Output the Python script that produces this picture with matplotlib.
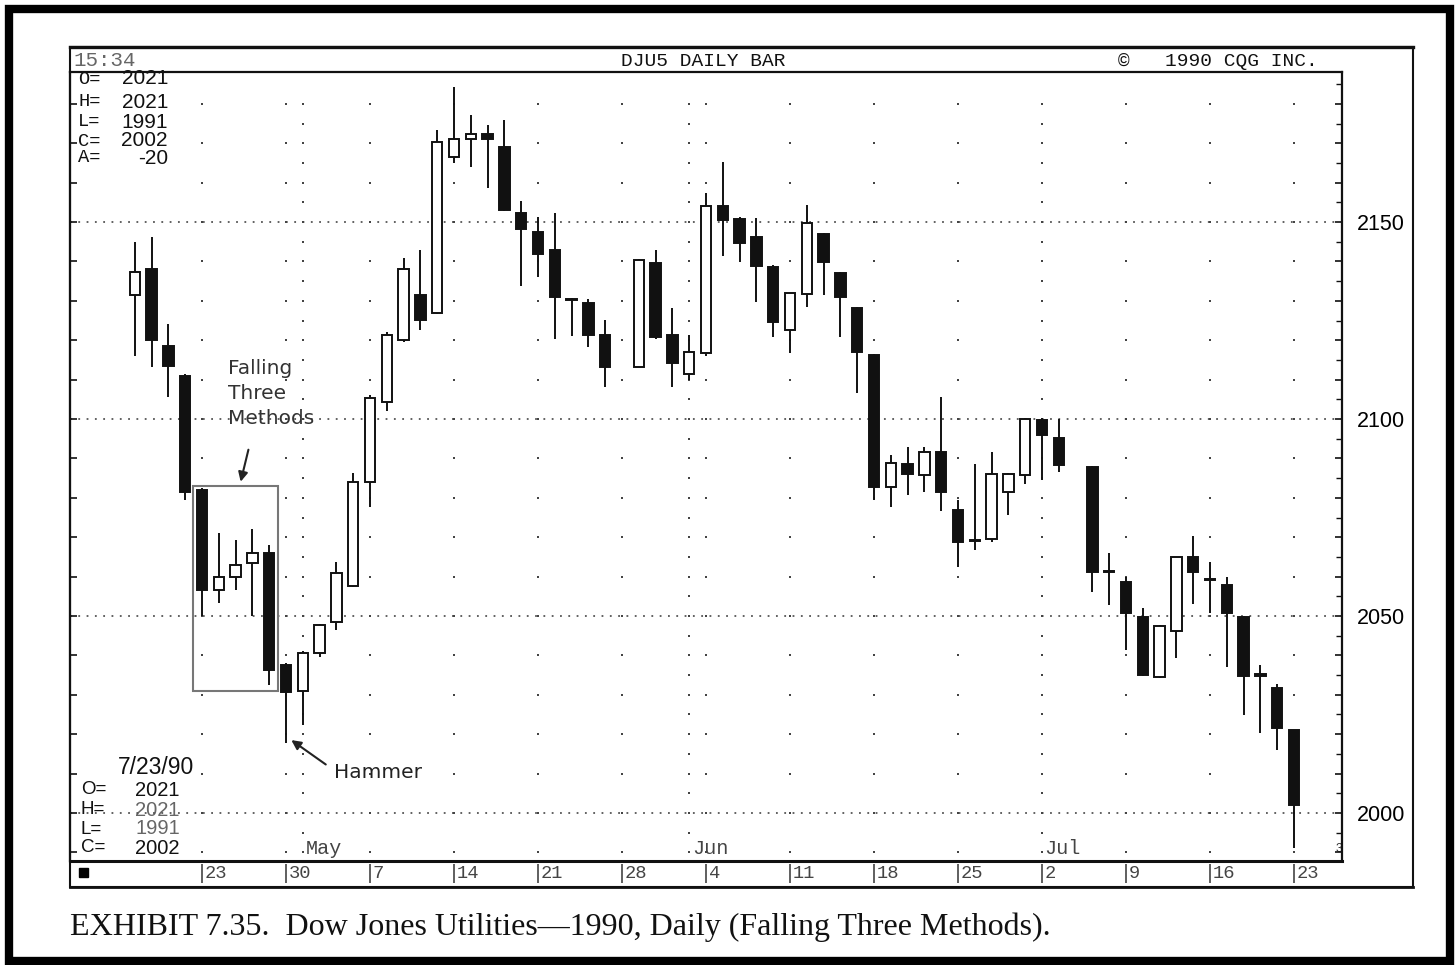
import numpy as np
import matplotlib
matplotlib.use("Agg")
import matplotlib.pyplot as plt
import matplotlib.transforms as mtransforms
from matplotlib.patches import Rectangle

plt.rcParams["font.family"] = ["Liberation Sans", "DejaVu Sans"]

# ---- Daily OHLC, Dow Jones Utilities 1990 ----
dates = [
    "1990-04-17", "1990-04-18", "1990-04-19", "1990-04-20",
    "1990-04-23", "1990-04-24", "1990-04-25", "1990-04-26", "1990-04-27",
    "1990-04-30", "1990-05-01", "1990-05-02", "1990-05-03", "1990-05-04",
    "1990-05-07", "1990-05-08", "1990-05-09", "1990-05-10", "1990-05-11",
    "1990-05-14", "1990-05-15", "1990-05-16", "1990-05-17", "1990-05-18",
    "1990-05-21", "1990-05-22", "1990-05-23", "1990-05-24", "1990-05-25",
    "1990-05-29", "1990-05-30", "1990-05-31", "1990-06-01",
    "1990-06-04", "1990-06-05", "1990-06-06", "1990-06-07", "1990-06-08",
    "1990-06-11", "1990-06-12", "1990-06-13", "1990-06-14", "1990-06-15",
    "1990-06-18", "1990-06-19", "1990-06-20", "1990-06-21", "1990-06-22",
    "1990-06-25", "1990-06-26", "1990-06-27", "1990-06-28", "1990-06-29",
    "1990-07-02", "1990-07-03", "1990-07-05", "1990-07-06",
    "1990-07-09", "1990-07-10", "1990-07-11", "1990-07-12", "1990-07-13",
    "1990-07-16", "1990-07-17", "1990-07-18", "1990-07-19", "1990-07-20",
    "1990-07-23",
]
opens = [
    2131.5, 2138.0, 2118.5, 2111.0,
    2082.0, 2056.6, 2060.0, 2063.5, 2066.0,
    2037.6, 2031.0, 2040.7, 2048.6, 2057.6,
    2084.1, 2104.4, 2120.0, 2131.5, 2127.0,
    2166.4, 2171.0, 2172.3, 2169.1, 2152.2,
    2147.4, 2142.9, 2130.5, 2129.4, 2121.3,
    2113.3, 2139.5, 2121.3, 2111.4,
    2116.8, 2154.1, 2150.9, 2146.1, 2138.5,
    2122.6, 2131.7, 2147.1, 2137.0, 2128.1,
    2116.2, 2082.8, 2088.6, 2085.8, 2091.7,
    2076.9, 2069.3, 2069.5, 2081.5, 2085.8,
    2099.7, 2095.1, 2087.7, 2061.5,
    2058.7, 2049.8, 2034.4, 2046.3, 2064.9,
    2059.5, 2057.9, 2049.7, 2035.2, 2031.7,
    2021.0,
]
highs = [
    2145.0, 2146.3, 2124.0, 2111.5,
    2082.5, 2071.0, 2069.3, 2072.0, 2068.0,
    2038.0, 2041.0, 2048.0, 2063.8, 2086.2,
    2106.0, 2122.0, 2140.8, 2143.0, 2173.4,
    2184.3, 2177.2, 2174.6, 2176.0, 2155.4,
    2151.3, 2152.2, 2130.6, 2130.4, 2125.1,
    2140.6, 2142.9, 2128.3, 2121.3,
    2157.3, 2165.3, 2151.2, 2151.0, 2139.1,
    2132.1, 2154.3, 2147.3, 2137.4, 2128.5,
    2116.4, 2090.9, 2093.0, 2092.8, 2105.5,
    2079.4, 2088.6, 2091.7, 2086.2, 2100.2,
    2100.2, 2099.9, 2088.0, 2065.9,
    2060.0, 2052.0, 2047.7, 2065.1, 2070.2,
    2063.6, 2060.0, 2050.0, 2037.6, 2032.7,
    2021.0,
]
lows = [
    2116.0, 2113.3, 2105.7, 2079.5,
    2050.0, 2053.2, 2056.6, 2050.0, 2032.5,
    2017.7, 2022.3, 2039.7, 2046.4, 2057.4,
    2077.7, 2102.0, 2119.6, 2122.6, 2126.6,
    2165.0, 2164.0, 2158.6, 2152.9, 2133.8,
    2136.0, 2120.2, 2121.0, 2118.2, 2108.1,
    2113.1, 2120.2, 2108.1, 2109.9,
    2116.0, 2141.4, 2139.9, 2129.8, 2120.9,
    2116.8, 2128.5, 2131.5, 2120.9, 2106.7,
    2079.4, 2077.7, 2080.7, 2081.5, 2076.7,
    2062.5, 2066.8, 2068.9, 2075.6, 2083.5,
    2084.5, 2086.6, 2056.2, 2052.8,
    2041.4, 2034.8, 2034.2, 2039.3, 2053.0,
    2050.7, 2037.1, 2024.9, 2020.2, 2016.0,
    1991.0,
]
closes = [
    2137.4, 2120.0, 2113.5, 2081.5,
    2056.5, 2060.0, 2063.0, 2066.0, 2036.3,
    2030.8, 2040.7, 2047.7, 2060.8, 2084.1,
    2105.3, 2121.3, 2138.2, 2125.1, 2170.4,
    2171.2, 2172.3, 2171.0, 2153.1, 2148.2,
    2141.9, 2131.0, 2130.2, 2121.3, 2113.3,
    2140.4, 2120.9, 2114.3, 2117.1,
    2154.1, 2150.5, 2144.8, 2138.8, 2124.7,
    2131.9, 2149.7, 2139.9, 2131.0, 2117.1,
    2082.8, 2088.8, 2086.0, 2091.7, 2081.5,
    2068.9, 2069.1, 2086.0, 2086.0, 2099.9,
    2095.9, 2088.3, 2061.2, 2061.1,
    2050.7, 2035.0, 2047.5, 2064.9, 2061.2,
    2059.1, 2050.7, 2034.8, 2034.8, 2021.5,
    2002.0,
]

week_starts = ["1990-04-23", "1990-04-30", "1990-05-07", "1990-05-14",
               "1990-05-21", "1990-05-28", "1990-06-04", "1990-06-11",
               "1990-06-18", "1990-06-25", "1990-07-02", "1990-07-09",
               "1990-07-16", "1990-07-23"]
month_starts = ["1990-05-01", "1990-06-01", "1990-07-02"]
month_names = ["May", "Jun", "Jul"]
price_lines = [2000, 2050, 2100, 2150]
pattern_days = ["1990-04-23", "1990-04-27"]
pattern_range = [2031.0, 2083.0]

ORIGIN = "1990-04-16"
INK = "#111111"
GREY = "#555555"

x = np.busday_count(ORIGIN, np.array(dates, dtype="datetime64[D]"))
o, h, l, c = (np.asarray(v) for v in (opens, highs, lows, closes))
week_x = np.busday_count(ORIGIN, np.array(week_starts, dtype="datetime64[D]"))
week_lbl = [str(int(d[-2:])) for d in week_starts]
month_x = np.busday_count(ORIGIN, np.array(month_starts, dtype="datetime64[D]"))

# ---- figure and page layer (pixel coordinates) ----
W, H = 1455, 965
fig = plt.figure(figsize=(W / 100, H / 100), dpi=100)
page = fig.add_axes([0, 0, 1, 1], zorder=0)
page.set_xlim(0, W)
page.set_ylim(H, 0)
page.axis("off")


def frac(x0, y0, x1, y1):
    return [x0 / W, 1 - y1 / H, (x1 - x0) / W, (y1 - y0) / H]


ax = fig.add_axes(frac(70, 72, 1342, 861), zorder=1)
ax.patch.set_alpha(0)
ax.set_xlim(-2.86, 72.86)
ax.set_ylim(1987.8, 2188.1)

# dotted reference lines and dot grid
for p in price_lines:
    ax.axhline(p, color=GREY, lw=1.3, ls=(0, (1, 3.6)), zorder=1)
gx, gy = [], []
for wx in week_x:
    lv = np.arange(1990, 2185, 10)
    gx += [wx] * len(lv)
    gy += list(lv)
for mx in month_x:
    lv = np.arange(1990, 2185, 5)
    gx += [mx] * len(lv)
    gy += list(lv)
ax.scatter(gx, gy, s=3, marker="s", color="#444444", lw=0, zorder=1)

# candlesticks
ax.vlines(x, l, h, color=INK, lw=1.4, zorder=2)
ax.bar(x, c - o, bottom=o, width=0.62,
       color=np.where(c >= o, "white", INK), edgecolor=INK,
       linewidth=1.4, zorder=3)

# pattern box and notes
sans_note = ["DejaVu Sans"]
bx0 = np.busday_count(ORIGIN, pattern_days[0]) - 0.55
bx1 = np.busday_count(ORIGIN, pattern_days[1]) + 0.55
ax.add_patch(Rectangle((bx0, pattern_range[0]), bx1 - bx0,
                       pattern_range[1] - pattern_range[0],
                       fill=False, edgecolor="#777777", lw=1.5, zorder=2))
ax.text(6.55, 2115.3, "Falling\nThree\nMethods", fontsize=14.5,
        family=sans_note, color="#333333", va="top", ha="left",
        linespacing=1.42)
ax.annotate("", xy=(7.26, 2083.4), xytext=(7.8, 2092.9),
            arrowprops=dict(arrowstyle="-|>", color="#222222", lw=1.5,
                            mutation_scale=14))
ax.text(12.86, 2010.3, "Hammer", fontsize=14.5, family=sans_note,
        color="#222222", va="center", ha="left")
ax.annotate("", xy=(10.18, 2018.9), xytext=(12.5, 2011.9),
            arrowprops=dict(arrowstyle="-|>", color="#222222", lw=1.5,
                            mutation_scale=14))

# axes styling
ax.set_xticks([])
ticks = np.arange(1990, 2190, 10)
ax.set_yticks(ticks)
ax.set_yticklabels([str(t) if t in price_lines else "" for t in ticks])
ax.set_yticks(np.arange(1995, 2190, 10), minor=True)
ax.yaxis.set_ticks_position("both")
ax.tick_params(axis="y", which="major", direction="in", length=5,
               width=1.2, color=INK, labelleft=False, labelright=True,
               labelsize=15.5, pad=11)
ax.tick_params(axis="y", which="minor", direction="in", length=4,
               width=1.0, color=INK, left=False, right=True)
for side, sp in ax.spines.items():
    sp.set_color(INK)
    sp.set_linewidth(1.6)
ax.spines["bottom"].set_linewidth(2.2)

# date band under the plot
mono = ["Liberation Mono", "DejaVu Sans Mono"]
trans = mtransforms.blended_transform_factory(ax.transData, page.transData)
ax.vlines(week_x, 864, 883, transform=trans, color="#444444", lw=1.2,
          clip_on=False)
for wx, lab in zip(week_x, week_lbl):
    ax.text(wx + 0.15, 873.5, lab, transform=trans, fontsize=13.5,
            family=mono, color="#444444", va="center", ha="left",
            clip_on=False)
for mx, name in zip(month_x, month_names):
    ax.text(mx + 0.15, 848, name, transform=trans, fontsize=14.5,
            family=mono, color="#444444", va="center", ha="left",
            clip_on=False)
page.text(1336, 849, "3", fontsize=9, color="#333333", va="center")
page.add_patch(Rectangle((79, 868), 9, 9, color="black"))

# chart frame and page border
page.add_patch(Rectangle((70, 47), 1343, 840, fill=False, edgecolor=INK,
                         lw=1.5))
page.plot([70, 1413], [47, 47], color=INK, lw=2.4)
page.plot([70, 1413], [887, 887], color=INK, lw=2.0)
page.add_patch(Rectangle((9, 9), 1441, 952, fill=False, edgecolor="black",
                         lw=6))

# header strip
page.text(73, 61, "15:34", fontsize=15, family=mono, color="#666666",
          va="center")
page.text(703, 61, "DJU5 DAILY BAR", fontsize=14, family=mono, color=INK,
          va="center", ha="center")
page.text(1118, 61, "\u00a9   1990 CQG INC.", fontsize=14, family=mono,
          color=INK, va="center")

# last-bar readouts
last = dict(O=o[-1], H=h[-1], L=l[-1], C=c[-1])
change = int(round(c[-1] - c[-2]))
top_rows = [("O=", f"{last['O']:.0f}", 79), ("H=", f"{last['H']:.0f}", 102),
            ("L=", f"{last['L']:.0f}", 122), ("C=", f"{last['C']:.0f}", 141),
            ("A=", f"{change:d}", 158)]
for lab, val, yy in top_rows:
    page.text(78, yy, lab, fontsize=13.5, family=mono, color=INK, va="center")
    page.text(168, yy, val, fontsize=15, color=INK, va="center", ha="right")

page.text(118, 768, "7/23/90", fontsize=16.5, color=INK, va="center")
bot_rows = [("O=", f"{last['O']:.0f}", 790, INK),
            ("H=", f"{last['H']:.0f}", 810, "#666666"),
            ("L=", f"{last['L']:.0f}", 829, "#666666"),
            ("C=", f"{last['C']:.0f}", 848, INK)]
for lab, val, yy, col in bot_rows:
    page.text(81, yy, lab, fontsize=13.5, color=INK, va="center")
    page.text(180, yy, val, fontsize=14.5, color=col, va="center", ha="right")

# caption
page.text(70, 927, "EXHIBIT 7.35.  Dow Jones Utilities\u20141990, Daily "
          "(Falling Three Methods).", fontsize=23,
          family=["Liberation Serif", "DejaVu Serif"], color=INK,
          va="center", ha="left")

fig.savefig("out.png", dpi=100)
